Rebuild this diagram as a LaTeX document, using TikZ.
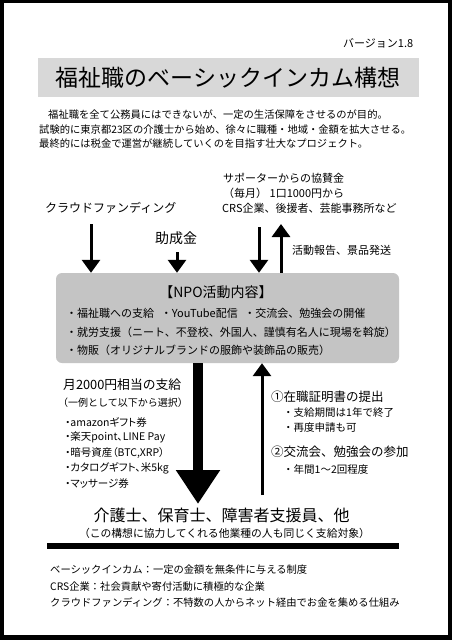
\documentclass[tikz,border=0pt]{standalone}
\usepackage{fontspec}
\setmainfont{Noto Sans CJK JP}
\newfontfamily\paltfont[RawFeature=+palt]{Noto Sans CJK JP}
\usetikzlibrary{arrows.meta}
\definecolor{titlegray}{RGB}{216,216,216}
\definecolor{boxgray}{RGB}{196,196,196}
\newcommand{\fs}[1]{\fontsize{#1}{#1}\selectfont}
\begin{document}
\begin{tikzpicture}[x=1pt,y=-1pt,
  txt/.style={inner sep=0pt, anchor=west},
  ctxt/.style={inner sep=0pt, anchor=center},
  thinarr/.style={line width=3pt, -{Triangle[width=18pt,length=13pt]}},
  bigarr/.style={line width=10pt, -{Triangle[width=42pt,length=34pt]}}]
\useasboundingbox (0,0) rectangle (452,640);
% frame
\fill[black] (0,0) rectangle (452,640);
\fill[white] (4,3) rectangle (448,635);

% version
\node[txt] (ver) at (343,43) {\fs{11}バージョン1.8};

% title
\node[fill=titlegray, minimum width=381pt, minimum height=39pt, inner sep=0pt] (title) at (228,77.5) {};
\node[ctxt] (titletext) at (title.center) {\fs{23}福祉職のベーシックインカム構想};

% paragraph
\node[txt] (p1) at (48,115) {\fs{10.3}福祉職を全て公務員にはできないが、一定の生活保障をさせるのが目的。};
\node[txt] (p2) at (39,130) {\fs{10.3}試験的に東京都23区の介護士から始め、徐々に職種・地域・金額を拡大させる。};
\node[txt] (p3) at (39,144) {\fs{10.3}最終的には税金で運営が継続していくのを目指す壮大なプロジェクト。};

% sources
\node[txt] (sup1) at (223,178) {\fs{11}サポーターからの協賛金};
\node[txt] (sup2) at (223,193) {\fs{11}（毎月） 1口1000円から};
\node[txt] (sup3) at (222,208) {\fs{11}CRS企業、後援者、芸能事務所など};
\node[txt] (cf) at (45,208) {\fs{12}クラウドファンディング};
\node[ctxt] (grant) at (176,238) {\fs{14}助成金};
\node[txt] (report) at (292,250) {\fs{11}活動報告、景品発送};

% NPO box
\node[fill=boxgray, rounded corners=6pt, minimum width=343pt, minimum height=90pt, inner sep=0pt] (npo) at (227.5,318) {};
\node[ctxt] (npotitle) at (216,292) {\fs{14}【NPO活動内容】};
\node[txt] (n1) at (66,313) {\fs{11}・福祉職への支給\hspace{0.6em}・YouTube配信\hspace{0.6em}・交流会、勉強会の開催};
\node[txt] (n2) at (66,332) {\fs{11}・就労支援（ニート、不登校、外国人、謹慎有名人に現場を斡旋）};
\node[txt] (n3) at (66,350) {\fs{11}・物販（オリジナルブランドの服飾や装飾品の販売）};

% arrows into box
\coordinate (a1) at (91,224);
\coordinate (a2) at (177,252);
\coordinate (a3) at (259,227);
\coordinate (a4) at (281,224);
\draw[thinarr] (a1) -- (a1 |- npo.north);
\draw[thinarr] (a2) -- (a2 |- npo.north);
\draw[thinarr] (a3) -- (a3 |- npo.north);
\draw[thinarr] (a4 |- npo.north) -- (a4);

% left text
\node[txt] (pay) at (63,385) {\fs{12.8}月2000円相当の支給};
\node[txt] (ex) at (58,403) {\fs{10}（一例として以下から選択）};
\node[txt] (l1) at (65,422) {\paltfont\fs{10.5}・amazonギフト券};
\node[txt] (l2) at (65,437) {\paltfont\fs{10.5}・楽天point、LINE Pay};
\node[txt] (l3) at (65,453) {\paltfont\fs{10.5}・暗号資産（BTC,XRP）};
\node[txt] (l4) at (65,468) {\paltfont\fs{10.5}・カタログギフト、米5kg};
\node[txt] (l5) at (65,484) {\paltfont\fs{10.5}・マッサージ券};

% right text
\node[txt] (r1) at (271,397) {\fs{12.5}①在職証明書の提出};
\node[txt] (r2) at (283,413) {\fs{10.5}・支給期間は1年で終了};
\node[txt] (r3) at (283,428) {\fs{10.5}・再度申請も可};
\node[txt] (r4) at (271,452) {\fs{12.5}②交流会、勉強会の参加};
\node[txt] (r5) at (283,469) {\fs{10.5}・年間1〜2回程度};

% bottom
\node[ctxt] (workers) at (221.5,515) {\fs{16}介護士、保育士、障害者支援員、他};
\node[ctxt] (note) at (224.5,533) {\fs{10.8}（この構想に協力してくれる他業種の人も同じく支給対象）};

% big arrows
\coordinate (b1) at (198,504);
\coordinate (b2) at (262,495);
\draw[bigarr] (b1 |- npo.south) -- (b1);
\draw[thinarr] (b2) -- (b2 |- npo.south);

% rule
\fill[black] (47,543) rectangle (399,549);

% glossary
\node[txt] (g1) at (50,570) {\fs{10.3}ベーシックインカム：一定の金額を無条件に与える制度};
\node[txt] (g2) at (50,587) {\fs{10.3}CRS企業：社会貢献や寄付活動に積極的な企業};
\node[txt] (g3) at (50,603) {\fs{10.3}クラウドファンディング：不特数の人からネット経由でお金を集める仕組み};
\end{tikzpicture}
\end{document}
